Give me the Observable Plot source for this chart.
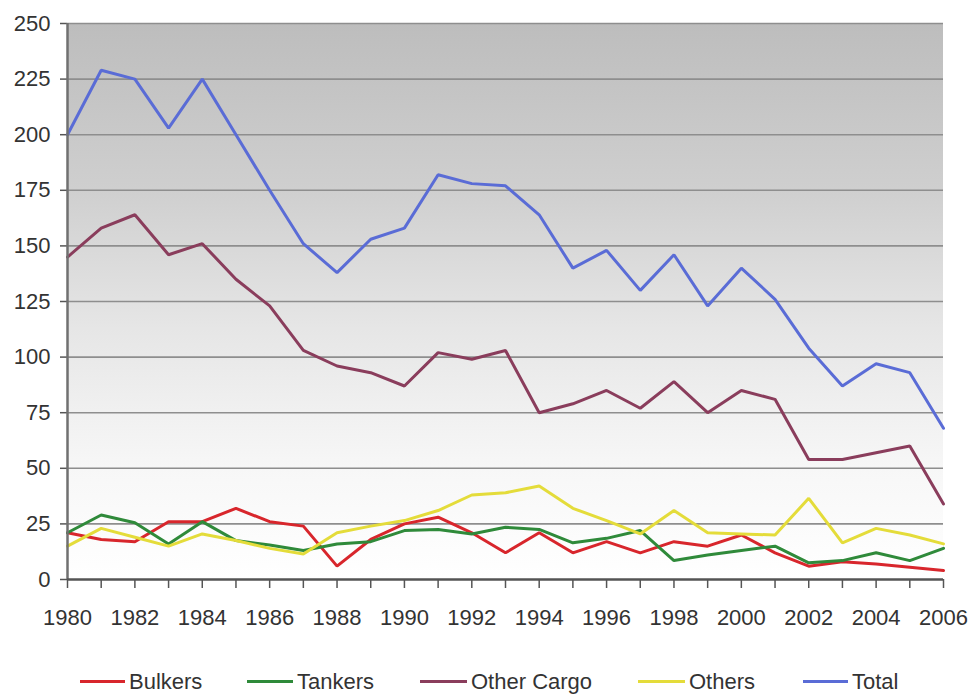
<!DOCTYPE html>
<html>
<head>
<meta charset="utf-8">
<script src="https://cdn.jsdelivr.net/npm/d3@7"></script>
<script src="https://cdn.jsdelivr.net/npm/@observablehq/plot@0.6"></script>
<style>
  html, body { margin: 0; padding: 0; background: #ffffff; }
  #wrap { width: 971px; font-family: "Liberation Sans", Arial, sans-serif; }
  #legend { position: relative; width: 971px; height: 55px; }
  .item { position: absolute; top: 14px; height: 55px; display: flex; align-items: center; font-size: 22px; color: #333; }
  .sw { display: inline-block; height: 3px; margin-right: 4px; }
</style>
</head>
<body>
<div id="wrap">
  <div id="chart"></div>
  <div id="legend"></div>
</div>
<script>
const years = [1980,1981,1982,1983,1984,1985,1986,1987,1988,1989,1990,1991,1992,1993,1994,1995,1996,1997,1998,1999,2000,2001,2002,2003,2004,2005,2006];
const seriesNames = ["Bulkers", "Tankers", "Other Cargo", "Others", "Total"];
const bulkers    = [21,18,17,26,26,32,26,24,6,18,25,28,21,12,21,12,17,12,17,15,20,12,6,8,7,5.5,4];
const tankers    = [21,29,25.5,16,26,17.5,15.5,13,16,17,22,22.5,20.5,23.5,22.5,16.5,18.5,22,8.5,11,13,15,7.5,8.5,12,8.5,14];
const otherCargo = [145,158,164,146,151,135,123,103,96,93,87,102,99,103,75,79,85,77,89,75,85,81,54,54,57,60,34];
const others     = [15,23,19,15,20.5,17.5,14,11.5,21,24,26.5,31,38,39,42,32,26.5,20.5,31,21,20.5,20,36.5,16.5,23,20,16];
const total      = [200,229,225,203,225,200,175,151,138,153,158,182,178,177,164,140,148,130,146,123,140,126,104,87,97,93,68];
const yTicks = [0,25,50,75,100,125,150,175,200,225,250];
const xLabelYears = [1980,1982,1984,1986,1988,1990,1992,1994,1996,1998,2000,2002,2004,2006];

const colors = ["#d8262c", "#2f8a3a", "#8a3d5c", "#e4dc3a", "#5a6cd6"];
const seriesValues = [bulkers, tankers, otherCargo, others, total];

const table = seriesNames.flatMap((name, s) =>
  years.map((year, i) => ({series: name, year, value: seriesValues[s][i]}))
);

const background = (index, scales, values, dimensions) => {
  const {width, height, marginLeft, marginRight, marginTop, marginBottom} = dimensions;
  const g = d3.create("svg:g");
  const grad = g.append("defs").append("linearGradient")
    .attr("id", "bgGrad").attr("x1", 0).attr("y1", 0).attr("x2", 0).attr("y2", 1);
  grad.append("stop").attr("offset", "0%").attr("stop-color", "#bdbdbd");
  grad.append("stop").attr("offset", "30%").attr("stop-color", "#cfcfcf");
  grad.append("stop").attr("offset", "55%").attr("stop-color", "#e6e6e6");
  grad.append("stop").attr("offset", "80%").attr("stop-color", "#f7f7f7");
  grad.append("stop").attr("offset", "100%").attr("stop-color", "#ffffff");
  g.append("rect")
    .attr("x", marginLeft).attr("y", marginTop)
    .attr("width", width - marginLeft - marginRight)
    .attr("height", height - marginTop - marginBottom)
    .attr("fill", "url(#bgGrad)");
  return g.node();
};

const chart = Plot.plot({
  width: 971,
  height: 640,
  marginTop: 23,
  marginLeft: 67,
  marginRight: 28,
  marginBottom: 61,
  style: {fontFamily: "Liberation Sans, Arial, sans-serif", fontSize: "22px", color: "#333", background: "transparent", overflow: "visible"},
  x: {domain: [years[0], years[years.length - 1]]},
  y: {domain: [0, 250]},
  color: {domain: seriesNames, range: colors},
  marks: [
    background,
    Plot.ruleY(yTicks.slice(1), {stroke: "#8e8e8e", strokeWidth: 1.6}),
    Plot.axisY({ticks: yTicks, tickSize: 7, tickPadding: 10, tickFormat: "d", label: null, stroke: "#555", strokeWidth: 1.5, fill: "#333"}),
    Plot.axisX({ticks: years, tickSize: 9, tickPadding: 21,
      tickFormat: (d) => xLabelYears.includes(d) ? String(d) : "",
      label: null, stroke: "#555", strokeWidth: 1.5, fill: "#333"}),
    Plot.lineY(table, {x: "year", y: "value", z: "series", stroke: "series", strokeWidth: 3, strokeLinejoin: "miter"}),
    Plot.ruleX([years[0]], {stroke: "#707070", strokeWidth: 2.5}),
    Plot.ruleY([0], {stroke: "#555", strokeWidth: 2.5})
  ]
});
document.getElementById("chart").appendChild(chart);

// Legend below the SVG
const legendPos = [
  {sw: 80, w: 45},
  {sw: 247, w: 46},
  {sw: 420, w: 47},
  {sw: 638, w: 47},
  {sw: 803, w: 45}
];
const legend = d3.select("#legend");
seriesNames.forEach((name, i) => {
  const it = legend.append("div").attr("class", "item").style("left", legendPos[i].sw + "px");
  it.append("span").attr("class", "sw").style("width", legendPos[i].w + "px").style("background", colors[i]);
  it.append("span").text(name);
});
</script>
</body>
</html>
